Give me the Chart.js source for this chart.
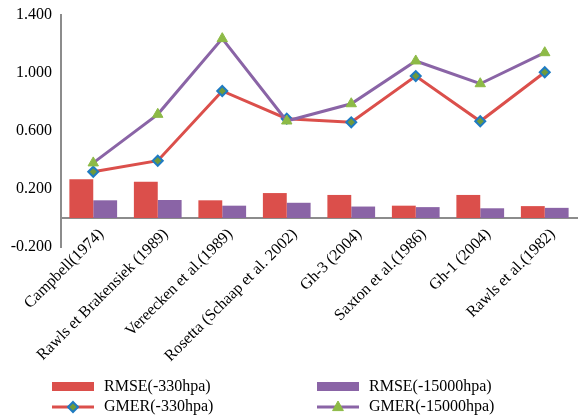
<!DOCTYPE html>
<html>
<head>
    <script src="https://cdn.jsdelivr.net/npm/chart.js"></script>
    <style>
        body { margin: 0; background: #fff; }
    </style>
</head>
<body>
    <canvas id="errorChart" width="584" height="418"></canvas>

    <script>
        const models = [
            "Campbell(1974)",
            "Rawls et Brakensiek (1989)",
            "Vereecken et al.(1989)",
            "Rosetta (Schaap et al. 2002)",
            "Gh-3 (2004)",
            "Saxton et al.(1986)",
            "Gh-1 (2004)",
            "Rawls et al.(1982)",
        ];
        const rmse330 = [0.267, 0.250, 0.122, 0.172, 0.159, 0.085, 0.159, 0.082];
        const rmse15000 = [0.122, 0.124, 0.085, 0.105, 0.079, 0.075, 0.067, 0.070];
        const gmer330 = [0.319, 0.395, 0.876, 0.685, 0.660, 0.979, 0.667, 1.005];
        const gmer15000 = [0.380, 0.715, 1.237, 0.669, 0.788, 1.083, 0.926, 1.140];
        const yTicks = [-0.2, 0.2, 0.6, 1.0, 1.4];

        const RED = "#db4f4b";
        const PURPLE = "#8a64a6";
        const serif = "'Liberation Serif', 'Times New Roman', serif";
    </script>
    <script>
        // 2x2 legend like the excel one, drawn under the plot
        const gridLegend = {
            id: "gridLegend",
            afterDraw(chart) {
                const ctx = chart.ctx;
                const cols = [52, 317];
                const rows = [386.5, 407];
                const sw = 42;
                ctx.save();
                ctx.font = "16px " + serif;
                ctx.textBaseline = "middle";
                ctx.fillStyle = "#000";
                chart.data.datasets.forEach((ds, i) => {
                    const x = cols[i % 2];
                    const y = rows[Math.floor(i / 2)];
                    if (ds.type === "line") {
                        ctx.strokeStyle = ds.borderColor;
                        ctx.lineWidth = 3;
                        ctx.beginPath();
                        ctx.moveTo(x, y);
                        ctx.lineTo(x + sw, y);
                        ctx.stroke();
                        const cx = x + sw / 2;
                        ctx.fillStyle = ds.pointBackgroundColor;
                        ctx.strokeStyle = ds.pointBorderColor;
                        ctx.lineWidth = ds.pointBorderWidth;
                        ctx.beginPath();
                        if (ds.pointStyle === "rectRot") {
                            const r = ds.pointRadius;
                            ctx.moveTo(cx, y - r);
                            ctx.lineTo(cx + r, y);
                            ctx.lineTo(cx, y + r);
                            ctx.lineTo(cx - r, y);
                        } else {
                            const r = ds.pointRadius;
                            ctx.moveTo(cx, y - r);
                            ctx.lineTo(cx + r * 0.9, y + r * 0.6);
                            ctx.lineTo(cx - r * 0.9, y + r * 0.6);
                        }
                        ctx.closePath();
                        ctx.fill();
                        ctx.stroke();
                    } else {
                        ctx.fillStyle = ds.backgroundColor;
                        ctx.fillRect(x, y - 4.5, sw, 9);
                    }
                    ctx.fillStyle = "#000";
                    ctx.fillText(ds.label, x + sw + 10, y);
                });
                ctx.restore();
            }
        };

        const errorChart = new Chart("errorChart", {
            type: "bar",
            data: {
                labels: models,
                datasets: [
                    {
                        label: "RMSE(-330hpa)",
                        data: rmse330,
                        backgroundColor: RED,
                        order: 2,
                    },
                    {
                        label: "RMSE(-15000hpa)",
                        data: rmse15000,
                        backgroundColor: PURPLE,
                        order: 2,
                    },
                    {
                        type: "line",
                        label: "GMER(-330hpa)",
                        data: gmer330,
                        borderColor: RED,
                        borderWidth: 3,
                        pointStyle: "rectRot",
                        pointRadius: 5,
                        pointBackgroundColor: "#6f9a3b",
                        pointBorderColor: "#1f7bc2",
                        pointBorderWidth: 2,
                        order: 1,
                    },
                    {
                        type: "line",
                        label: "GMER(-15000hpa)",
                        data: gmer15000,
                        borderColor: PURPLE,
                        borderWidth: 3,
                        pointStyle: "triangle",
                        pointRadius: 6,
                        pointBackgroundColor: "#8dba46",
                        pointBorderColor: "#8dba46",
                        pointBorderWidth: 1,
                        order: 0,
                    },
                ],
            },
            options: {
                responsive: false,
                animation: false,
                datasets: {
                    bar: { categoryPercentage: 0.74, barPercentage: 1.0 },
                },
                layout: {
                    padding: { top: 15, left: 0, right: 0, bottom: 171 },
                },
                plugins: {
                    legend: { display: false },
                    tooltip: { enabled: false },
                },
                scales: {
                    x: {
                        position: { y: 0 },
                        grid: { display: false, drawTicks: false },
                        border: { color: "#8c8c8c", width: 2 },
                        ticks: {
                            autoSkip: false,
                            maxRotation: 45,
                            minRotation: 45,
                            padding: 7,
                            labelOffset: 8,
                            color: "#000",
                            font: { family: serif, size: 16 },
                        },
                    },
                    y: {
                        min: -0.2,
                        max: 1.4,
                        afterFit: (scale) => {
                            scale.width = 61;
                            scale.paddingTop = 0;
                            scale.paddingBottom = 0;
                        },
                        afterBuildTicks: (scale) => {
                            scale.ticks = yTicks.map(v => ({ value: v }));
                        },
                        grid: { display: false, drawTicks: false },
                        border: { color: "#8c8c8c", width: 2 },
                        ticks: {
                            padding: 9,
                            color: "#000",
                            font: { family: serif, size: 16 },
                            callback: (v) => Number(v).toFixed(3),
                        },
                    },
                },
            },
            plugins: [gridLegend],
        });
    </script>
</body>
</html>
